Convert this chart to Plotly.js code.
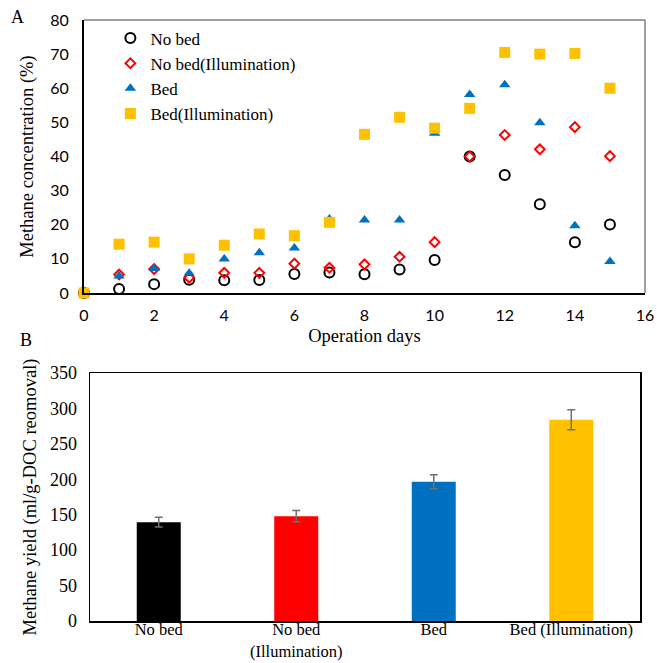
<!DOCTYPE html>
<html><head><meta charset="utf-8">
<script src="https://cdn.plot.ly/plotly-3.0.1.min.js"></script>
<style>html,body{margin:0;padding:0;background:#fff}</style>
</head><body><div id="chart" style="width:657px;height:663px"></div>
<script>
// Panel A: methane concentration (%) vs operation days
const days = [0,1,2,3,4,5,6,7,8,9,10,11,12,13,14,15];
const noBed      = [0,1.2,2.6,3.9,3.7,3.8,5.6,6.0,5.5,6.9,9.7,40.0,34.6,26.0,14.9,20.1];
const noBedIllum = [0,5.4,7.0,4.5,5.9,5.9,8.6,7.4,8.4,10.6,14.9,40.0,46.3,42.1,48.6,40.1];
const bed        = [0,5.0,7.2,5.8,10.0,11.8,13.2,21.7,21.4,21.4,46.8,58.2,61.0,49.9,19.7,9.2];
const bedIllum   = [0,14.3,14.9,10.0,14.0,17.3,16.8,20.7,46.5,51.5,48.3,54.1,70.5,70.0,70.2,60.0];
const seriesNames = ["No bed","No bed(Illumination)","Bed","Bed(Illumination)"];

// Panel B: methane yield
const yieldCats = ["No bed","No bed<br>(Illumination)","Bed","Bed (Illumination)"];
const yieldVals = [139.5,148,196.5,284];
const yieldErr  = [7,8,10,14];
const barColors = ["#000000","#FF0000","#0070C0","#FFC000"];

const serif = "Liberation Serif, Times New Roman, serif";
const sans = "Lato, Carlito, Calibri, sans-serif";

const traces = [
  {x: days, y: noBed, name: seriesNames[0], type: "scatter", mode: "markers", cliponaxis: false,
   marker: {symbol: "circle-open", size: 10, color: "#000000", line: {width: 2, color: "#000000"}}},
  {x: days, y: noBedIllum, name: seriesNames[1], type: "scatter", mode: "markers", cliponaxis: false,
   marker: {symbol: "diamond-open", size: 7.5, color: "#FF0000", line: {width: 2, color: "#FF0000"}}},
  {x: days, y: bed, name: seriesNames[2], type: "scatter", mode: "markers", cliponaxis: false,
   marker: {symbol: "triangle-up", size: 10, color: "#0070C0"}},
  {x: days, y: bedIllum, name: seriesNames[3], type: "scatter", mode: "markers", cliponaxis: false,
   marker: {symbol: "square", size: 11, color: "#FFC000"}},
  {x: yieldCats, y: yieldVals, type: "bar", xaxis: "x2", yaxis: "y2", showlegend: false,
   marker: {color: barColors},
   error_y: {type: "data", array: yieldErr, visible: true, color: "#707070", thickness: 1.5, width: 4}}
];

const layout = {
  width: 657, height: 663,
  margin: {l: 0, r: 0, t: 0, b: 0},
  paper_bgcolor: "#ffffff", plot_bgcolor: "#ffffff",
  showlegend: true,
  legend: {x: 0.168, y: 0.969, xanchor: "left", yanchor: "top", bgcolor: "rgba(0,0,0,0)",
           font: {family: serif, size: 17, color: "#000"}, tracegroupgap: 0, itemwidth: 30},
  xaxis: {domain: [84/657, 645/657], anchor: "y", range: [0,16], dtick: 2, tick0: 0,
          showgrid: false, zeroline: false, showline: true, linecolor: "#000", linewidth: 2,
          ticks: "", ticklabelstandoff: 7, tickfont: {family: sans, size: 16, color: "#000"},
          title: {text: "Operation days", font: {family: serif, size: 18.5, color: "#000"}, standoff: 6}},
  yaxis: {domain: [1-293/663, 1-20/663], anchor: "x", range: [0,80], dtick: 10, tick0: 0,
          showgrid: false, zeroline: false, showline: true, linecolor: "#000", linewidth: 2,
          ticks: "", ticklabelstandoff: 10, tickfont: {family: sans, size: 16, color: "#000"},
          title: {text: "Methane concentration (%)", font: {family: serif, size: 18.5, color: "#000"}, standoff: 12}},
  xaxis2: {domain: [90/657, 640/657], anchor: "y2", type: "category",
           showgrid: false, zeroline: false, showline: true, mirror: true, linecolor: "#000", linewidth: 1.5,
           ticks: "", ticklabelstandoff: -7, tickfont: {family: serif, size: 16.5, color: "#000"}},
  yaxis2: {domain: [1-621/663, 1-373/663], anchor: "x2", range: [0,350], dtick: 50, tick0: 0,
           showgrid: false, zeroline: false, showline: true, mirror: true, linecolor: "#000", linewidth: 1.5,
           ticks: "", ticklabelstandoff: 8, tickfont: {family: serif, size: 18, color: "#000"},
           title: {text: "Methane yield (ml/g-DOC reomoval)", font: {family: serif, size: 18.5, color: "#000"}, standoff: 8}},
  bargap: 0.68,
  shapes: [
    {type: "line", xref: "x domain", yref: "y domain", x0: 0, x1: 1, y0: 1, y1: 1, line: {color: "#7F7F7F", width: 1.5}, layer: "above"},
    {type: "line", xref: "x domain", yref: "y domain", x0: 1, x1: 1, y0: 0, y1: 1, line: {color: "#7F7F7F", width: 1.5}, layer: "above"}
  ],
  annotations: [
    {text: "A", xref: "paper", yref: "paper", x: 17/657, y: 1-17/663, xanchor: "center", yanchor: "middle", showarrow: false, font: {family: serif, size: 18, color: "#000"}},
    {text: "B", xref: "paper", yref: "paper", x: 26/657, y: 1-340/663, xanchor: "center", yanchor: "middle", showarrow: false, font: {family: serif, size: 18, color: "#000"}}
  ]
};

Plotly.newPlot("chart", traces, layout, {displayModeBar: false, staticPlot: true});
</script></body></html>
